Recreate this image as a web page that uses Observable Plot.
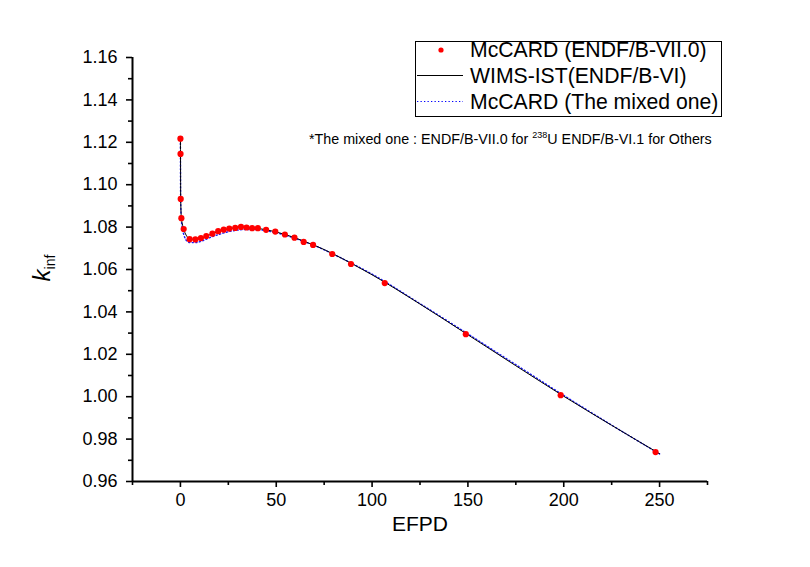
<!DOCTYPE html>
<html>
<head>
<meta charset="utf-8">
<script src="https://cdn.jsdelivr.net/npm/d3@7"></script>
<script src="https://cdn.jsdelivr.net/npm/@observablehq/plot@0.6"></script>
<style>
  html, body { margin: 0; padding: 0; background: #fff; }
  #wrap { position: relative; width: 810px; height: 567px; font-family: "Liberation Sans", Arial, sans-serif; }
  #overlay { position: absolute; left: 0; top: 0; pointer-events: none; }
</style>
</head>
<body>
<div id="wrap"></div>
<script>
// ---- data ----
const mcX = [0, 0.05, 0.15, 0.5, 1.7, 4.8, 7.8, 10.7, 13.5, 16.7, 19.7, 22.6, 25.5, 28.6, 31.6, 34.5, 37.4, 40.4, 44.7, 49.5, 54.5, 59.5, 64.3, 69.2, 79.2, 89, 106.6, 148.9, 198.4, 247.9];
const mcY = [1.1217, 1.1145, 1.0933, 1.0842, 1.0791, 1.0743, 1.0742, 1.0748, 1.0758, 1.0769, 1.0781, 1.0788, 1.0793, 1.0796, 1.0801, 1.0798, 1.0795, 1.0795, 1.0787, 1.0779, 1.0765, 1.0750, 1.0730, 1.0716, 1.0673, 1.0626, 1.0536, 1.0295, 1.0007, 0.9739];

const wimsX = [0, 0.05, 0.15, 0.5, 1, 1.7, 3, 5, 8, 11, 14, 17, 20, 23, 26, 29, 32, 35, 38, 41, 45, 50, 55, 60, 65, 70, 80, 90, 100, 125, 150, 175, 200, 225, 250];
const wimsY = [1.1218, 1.1145, 1.0935, 1.0842, 1.0815, 1.0790, 1.0762, 1.0745, 1.0742, 1.0748, 1.0759, 1.0770, 1.0780, 1.0788, 1.0794, 1.0797, 1.0799, 1.0798, 1.0796, 1.0793, 1.0787, 1.0777, 1.0764, 1.0749, 1.0731, 1.0714, 1.0672, 1.0625, 1.0575, 1.0437, 1.0292, 1.0146, 1.0002, 0.9865, 0.9731];

const mixX = [0, 0.1, 0.5, 1, 2, 3, 5, 8, 11, 15, 20, 25, 30, 35, 40, 45, 50, 55, 60, 70, 80, 90, 100, 125, 150, 175, 200, 225, 250];
const mixY = [1.1195, 1.0940, 1.0832, 1.0795, 1.0758, 1.0738, 1.0727, 1.0727, 1.0734, 1.0749, 1.0765, 1.0778, 1.0786, 1.0789, 1.0788, 1.0782, 1.0773, 1.0761, 1.0746, 1.0713, 1.0671, 1.0626, 1.0578, 1.0439, 1.0296, 1.0151, 1.0006, 0.9866, 0.9730];

const xDomain = [-25, 275];
const yDomain = [0.96, 1.16];
const xMajor = [0, 50, 100, 150, 200, 250];
const xMinor = [-25, 25, 75, 125, 175, 225, 275];
const yMajor = [0.96, 0.98, 1.00, 1.02, 1.04, 1.06, 1.08, 1.10, 1.12, 1.14, 1.16];
const yMinor = [0.97, 0.99, 1.01, 1.03, 1.05, 1.07, 1.09, 1.11, 1.13, 1.15];

const seriesNames = ["McCARD (ENDF/B-VII.0)", "WIMS-IST(ENDF/B-VI)", "McCARD (The mixed one)"];
const xLabel = "EFPD";

const mc = mcX.map((x, i) => ({x, y: mcY[i]}));
const wims = wimsX.map((x, i) => ({x, y: wimsY[i]}));
const mix = mixX.map((x, i) => ({x, y: mixY[i]}));

const chart = Plot.plot({
  width: 810,
  height: 567,
  marginTop: 57,
  marginRight: 103,
  marginBottom: 86,
  marginLeft: 132,
  style: {fontFamily: '"Liberation Sans", Arial, sans-serif', background: "#fff", color: "#000"},
  x: {domain: xDomain},
  y: {domain: yDomain},
  marks: [
    Plot.axisX({ticks: xMajor, tickSize: 6, tickPadding: 6, strokeWidth: 1.6, fontSize: 18, label: null, tickFormat: d3.format("d")}),
    Plot.axisX({ticks: xMinor, tickSize: 4, strokeWidth: 1.6, text: null, label: null}),
    Plot.axisY({ticks: yMajor, tickSize: 6, tickPadding: 9, strokeWidth: 1.6, fontSize: 18, tickFormat: d3.format(".2f"), label: null}),
    Plot.axisY({ticks: yMinor, tickSize: 4, strokeWidth: 1.6, text: null, label: null}),
    Plot.ruleX([xDomain[0]], {y1: yDomain[0], y2: yDomain[1], stroke: "#000", strokeWidth: 2}),
    Plot.ruleY([yDomain[0]], {x1: xDomain[0], x2: xDomain[1], stroke: "#000", strokeWidth: 2}),
    Plot.line(mix, {x: "x", y: "y", stroke: "#1a1aff", strokeWidth: 1.4, strokeDasharray: "1.2,2.4", curve: "monotone-x"}),
    Plot.line(wims, {x: "x", y: "y", stroke: "#000", strokeWidth: 1, curve: "monotone-x"}),
    Plot.dot(mc, {x: "x", y: "y", r: 3.1, fill: "#ff0000", stroke: "none"})
  ]
});

const wrap = document.getElementById("wrap");
wrap.appendChild(chart);

// overlay: legend, note and axis labels
const ov = d3.select(wrap).append("svg").attr("id", "overlay").attr("width", 810).attr("height", 567)
  .style("font-family", '"Liberation Sans", Arial, sans-serif');

// x label
ov.append("text").attr("x", 420).attr("y", 531).attr("text-anchor", "middle").attr("font-size", 21).attr("fill", "#000").text(xLabel);

// legend box
const lg = ov.append("g");
lg.append("rect").attr("x", 415.5).attr("y", 41.5).attr("width", 306).attr("height", 75)
  .attr("fill", "#fff").attr("stroke", "#000").attr("stroke-width", 1);
lg.append("circle").attr("cx", 441).attr("cy", 50).attr("r", 2.6).attr("fill", "#ff0000");
lg.append("line").attr("x1", 417).attr("x2", 463).attr("y1", 75.5).attr("y2", 75.5).attr("stroke", "#000").attr("stroke-width", 1);
lg.append("line").attr("x1", 417).attr("x2", 463).attr("y1", 101.5).attr("y2", 101.5).attr("stroke", "#0000ff").attr("stroke-width", 1.2).attr("stroke-dasharray", "1.3,2.2");
seriesNames.forEach((s, i) => {
  lg.append("text").attr("x", 470).attr("y", 57 + i * 26).attr("font-size", 21.2).attr("fill", "#000").text(s);
});

// note
const note = ov.append("text").attr("x", 309).attr("y", 144).attr("font-size", 14.3).attr("fill", "#000");
note.append("tspan").text("*The mixed one : ENDF/B-VII.0 for ");
note.append("tspan").attr("font-size", 9).attr("dy", -6).text("238");
note.append("tspan").attr("dy", 6).text("U ENDF/B-VI.1 for Others");

// y label k_inf
const yl = ov.append("text").attr("transform", "translate(50,268) rotate(-90)").attr("text-anchor", "middle").attr("fill", "#000");
yl.append("tspan").attr("font-size", 24).attr("font-style", "italic").text("k");
yl.append("tspan").attr("font-size", 14).attr("dy", 5).text("inf");
</script>
</body>
</html>
